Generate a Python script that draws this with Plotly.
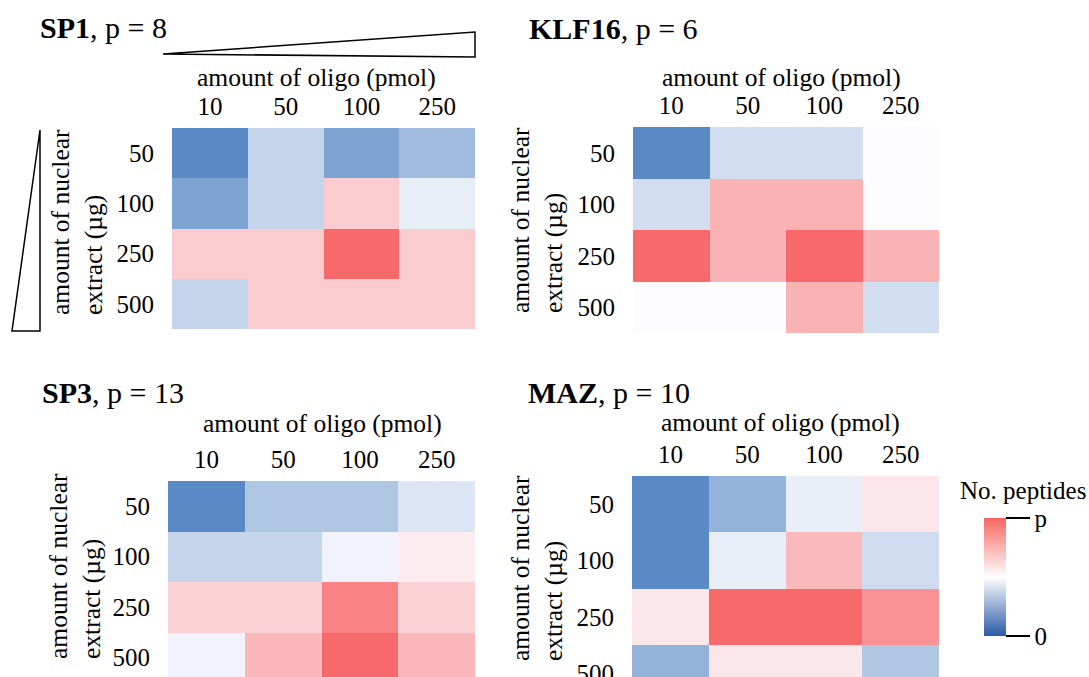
import plotly.graph_objects as go

W, H = 1089, 677
FONT = "Liberation Serif"

# ---------------- data ----------------
oligo = ["10", "50", "100", "250"]          # amount of oligo (pmol)
extract = ["50", "100", "250", "500"]       # amount of nuclear extract (µg)

sp1_p = 8
sp1 = [[0.0, 2.6, 0.9, 1.75],
       [0.9, 2.6, 5.3, 3.5],
       [5.3, 5.3, 8.0, 5.3],
       [2.6, 5.3, 5.3, 5.3]]

klf16_p = 6
klf16 = [[0.0, 2.2, 2.2, 3.0],
         [2.2, 4.5, 4.5, 3.0],
         [6.0, 4.5, 6.0, 4.5],
         [3.0, 3.0, 4.5, 2.2]]

sp3_p = 13
sp3 = [[0.0, 3.45, 3.45, 5.2],
       [4.3, 4.3, 6.0, 7.2],
       [8.3, 8.3, 11.9, 8.3],
       [6.0, 9.5, 13.0, 9.5]]

maz_p = 10
maz = [[0.0, 1.8, 4.4, 5.75],
       [0.0, 4.4, 7.25, 3.6],
       [5.75, 10.0, 10.0, 8.6],
       [1.8, 5.75, 5.75, 2.7]]

names = ["SP1", "KLF16", "SP3", "MAZ"]
pvals = [sp1_p, klf16_p, sp3_p, maz_p]
mats = [sp1, klf16, sp3, maz]

# ---------------- layout geometry (pixels) ----------------
panels = [
    dict(x0=172, x1=475, y0=128, y1=329, ybot=3.5,
         title=(38, 27), xt=(316, 78), yt=(77, 222)),
    dict(x0=633, x1=939, y0=127, y1=333, ybot=3.5,
         title=(527, 28), xt=(781, 78), yt=(537, 220)),
    dict(x0=168, x1=475, y0=481, y1=677, ybot=3.39,
         title=(40, 392), xt=(322, 423), yt=(75, 566)),
    dict(x0=632, x1=939, y0=476, y1=677, ybot=3.07,
         title=(526, 392), xt=(780, 422), yt=(537, 568)),
]

excel_cs = [[0, "#5A8AC6"], [0.5, "#FCFCFF"], [1, "#F8696B"]]
TICK = 25
LAB = 25.5


def px(x):
    return x / W


def py(y):
    return 1 - y / H


fig = go.Figure()
annotations = []
layout_axes = {}

for i, (name, p, z, g) in enumerate(zip(names, pvals, mats, panels)):
    k = "" if i == 0 else str(i + 1)
    fig.add_trace(go.Heatmap(
        z=z, x=oligo, y=extract, zmin=0, zmax=p,
        colorscale=excel_cs, showscale=False,
        xaxis="x" + k, yaxis="y" + k, hoverinfo="skip",
    ))
    layout_axes["xaxis" + k] = dict(
        domain=[px(g["x0"]), px(g["x1"])], anchor="y" + k,
        side="top", type="category", range=[-0.5, 3.5],
        showgrid=False, zeroline=False, showline=False, ticks="",
        ticklabelstandoff=7, automargin=False,
        tickfont=dict(family=FONT, size=TICK, color="black"),
    )
    layout_axes["yaxis" + k] = dict(
        domain=[py(g["y1"]), py(g["y0"])], anchor="x" + k,
        type="category", range=[g["ybot"], -0.5],
        showgrid=False, zeroline=False, showline=False, ticks="",
        ticklabelstandoff=17, automargin=False,
        tickfont=dict(family=FONT, size=TICK, color="black"),
    )
    annotations.append(dict(
        text=f"<b>{name}</b>, p = {p}", x=px(g["title"][0]), y=py(g["title"][1]),
        xref="paper", yref="paper", xanchor="left", yanchor="middle",
        showarrow=False, font=dict(family=FONT, size=30, color="black"),
    ))
    annotations.append(dict(
        text="amount of oligo (pmol)", x=px(g["xt"][0]), y=py(g["xt"][1]),
        xref="paper", yref="paper", xanchor="center", yanchor="middle",
        showarrow=False, font=dict(family=FONT, size=LAB, color="black"),
    ))
    annotations.append(dict(
        text="amount of nuclear<br>extract (µg)", x=px(g["yt"][0]), y=py(g["yt"][1]),
        xref="paper", yref="paper", xanchor="center", yanchor="middle",
        textangle=-90, align="left",
        showarrow=False, font=dict(family=FONT, size=LAB, color="black"),
    ))

# legend colour bar
fig.add_trace(go.Scatter(
    x=[None], y=[None], mode="markers", xaxis="x", yaxis="y", hoverinfo="skip",
    showlegend=False,
    marker=dict(
        color=[0], cmin=0, cmax=1,
        colorscale=[[0, "#2A5AA8"], [0.5, "#FFFFFF"], [1, "#F6665F"]],
        showscale=True,
        colorbar=dict(
            x=px(984), xanchor="left", xpad=0, ypad=0,
            y=py(577), yanchor="middle", len=(636 - 518) / H, lenmode="fraction",
            thickness=22, thicknessmode="pixels", outlinewidth=0,
            tickvals=[0, 1], ticktext=["0", "p"],
            ticks="outside", ticklen=24, tickwidth=1.5, tickcolor="black",
            tickfont=dict(family=FONT, size=TICK, color="black"),
        ),
    ),
))
annotations.append(dict(
    text="No. peptides", x=px(1023), y=py(490), xref="paper", yref="paper",
    xanchor="center", yanchor="middle", showarrow=False,
    font=dict(family=FONT, size=25, color="black"),
))

shapes = [
    dict(type="path", xref="paper", yref="paper",
         path=f"M {px(163)},{py(54)} L {px(475)},{py(32)} L {px(475)},{py(57)} Z",
         line=dict(color="black", width=1.5), fillcolor="rgba(0,0,0,0)"),
    dict(type="path", xref="paper", yref="paper",
         path=f"M {px(40)},{py(130)} L {px(12)},{py(331)} L {px(40)},{py(331)} Z",
         line=dict(color="black", width=1.5), fillcolor="rgba(0,0,0,0)"),
]

fig.update_layout(
    width=W, height=H,
    margin=dict(l=0, r=0, t=0, b=0, pad=0, autoexpand=False),
    paper_bgcolor="white", plot_bgcolor="white",
    showlegend=False, annotations=annotations, shapes=shapes,
    font=dict(family=FONT, color="black"),
    **layout_axes,
)

fig.write_html(
    "out.html",
    config={"displayModeBar": False},
    post_script="document.body.style.margin='0';document.body.style.overflow='hidden';",
)
